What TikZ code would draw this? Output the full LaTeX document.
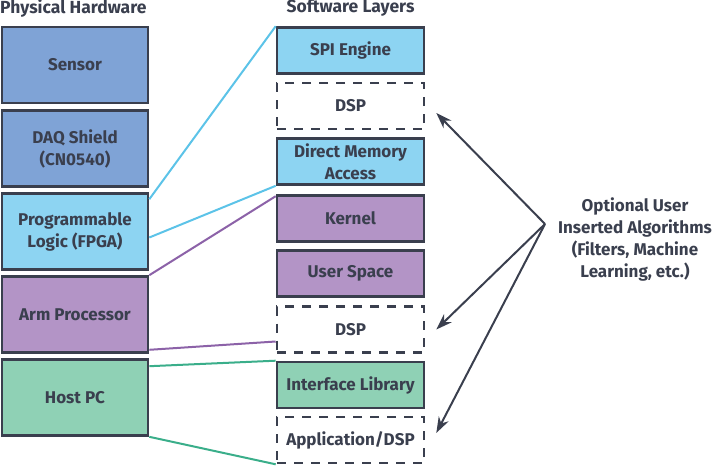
\documentclass[tikz,border=0pt]{standalone}
\usepackage{fontspec}
\setmainfont{Fira Sans}
\usetikzlibrary{arrows.meta}
\definecolor{ink}{HTML}{3A3F4E}
\definecolor{fblue}{HTML}{7FA3D6}
\definecolor{flight}{HTML}{8DD4F2}
\definecolor{fpurple}{HTML}{B394C6}
\definecolor{fgreen}{HTML}{8FD1B5}
\definecolor{lblue}{HTML}{5CC3E8}
\definecolor{lpurple}{HTML}{8C62A8}
\definecolor{lgreen}{HTML}{3AAE8A}
\tikzset{
  box/.style={draw=ink, line width=2.6pt, text=ink, font=\fontsize{17}{22}\selectfont\bfseries, align=center, inner sep=0pt},
  hw/.style={box, minimum width=146pt, minimum height=76pt},
  sw/.style={box, minimum width=147pt, minimum height=46pt},
  dsp/.style={sw, dash pattern=on 9pt off 8pt},
  conn/.style={line width=2pt},
  arr/.style={draw=ink, line width=2pt, -{Stealth[length=16pt,width=11pt]}},
  title/.style={text=ink, font=\fontsize{17.5}{21}\selectfont\bfseries}
}
\begin{document}
\begin{tikzpicture}[x=1pt,y=-1pt]
\useasboundingbox (0,0) rectangle (717,466);
\node[title, anchor=west, inner sep=0pt] (th) at (0,8) {Physical Hardware};
\node[title, inner sep=0pt] (ts) at (350.5,8) {Software Layers};
% hardware
\node[hw, fill=fblue] (sensor) at (75,65) {Sensor};
\node[hw, fill=fblue] (daq) at (75,148.5) {DAQ Shield\\(CN0540)};
\node[hw, fill=flight] (fpga) at (75,231.5) {Programmable\\Logic (FPGA)};
\node[hw, fill=fpurple] (arm) at (75,314.5) {Arm Processor};
\node[hw, fill=fgreen] (host) at (75,397.5) {Host PC};
% software
\node[sw, fill=flight] (spi) at (350.5,50.5) {SPI Engine};
\node[dsp] (dspa) at (350.5,106) {DSP};
\node[sw, fill=flight] (dma) at (350.5,161.5) {Direct Memory\\Access};
\node[sw, fill=fpurple] (kernel) at (350.5,218.5) {Kernel};
\node[sw, fill=fpurple] (user) at (350.5,273.5) {User Space};
\node[dsp] (dspb) at (350.5,329.5) {DSP};
\node[sw, fill=fgreen] (iface) at (350.5,385) {Interface Library};
\node[dsp] (app) at (350.5,440) {Application/DSP};
% connectors
\draw[conn, lblue] ([yshift=-7pt]fpga.north east) -- (spi.north west);
\draw[conn, lblue] ([yshift=-6pt]fpga.east) -- (dma.south west);
\draw[conn, lpurple] (arm.north east) -- ([yshift=-2pt]kernel.north west);
\draw[conn, lpurple] ([yshift=4pt]arm.south east) -- ([yshift=-12pt]dspb.west);
\draw[conn, lgreen] ([yshift=-8pt]host.north east) -- (iface.north west);
\draw[conn, lgreen] (host.south east) -- (app.south west);
% annotation
\node[text=ink, font=\fontsize{17}{22}\selectfont\bfseries, align=center] (note) at (635,239) {Optional User\\Inserted Algorithms\\(Filters, Machine\\Learning, etc.)};
\coordinate (hub) at (545,224);
\draw[arr] (hub) -- ([xshift=11pt,yshift=-7pt]dspa.east);
\draw[arr] (hub) -- ([xshift=11pt]dspb.east);
\draw[arr] (hub) -- ([xshift=11pt,yshift=7pt]app.east);
\end{tikzpicture}
\end{document}
